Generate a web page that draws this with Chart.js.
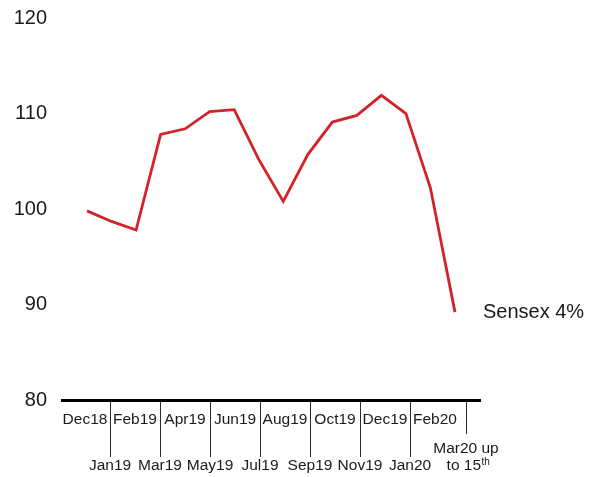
<!DOCTYPE html>
<html>
<head>
<meta charset="utf-8">
<script src="https://cdn.jsdelivr.net/npm/chart.js@4/dist/chart.umd.min.js"></script>
<style>
  html, body { margin: 0; padding: 0; background: #ffffff; }
  #c { display: block; }
</style>
</head>
<body>
<canvas id="c" width="596" height="477"></canvas>
<script>
// Months on the category axis (last one is a partial month)
const monthLabels = [
  'Dec18', 'Jan19', 'Feb19', 'Mar19', 'Apr19', 'May19', 'Jun19', 'Jul19',
  'Aug19', 'Sep19', 'Oct19', 'Nov19', 'Dec19', 'Jan20', 'Feb20', 'Mar20 up|to 15th'
];

// Sensex, rebased index (Dec18 ≈ 100)
const sensexIndex = [
  99.8, 98.7, 97.8, 107.8, 108.4, 110.2, 110.4, 105.2,
  100.8, 105.7, 109.1, 109.8, 111.9, 110.0, 102.2, 89.2
];

const yTicks = [80, 90, 100, 110, 120];
const seriesLabel = 'Sensex 4%';

const FONT = '"Liberation Sans", Arial, sans-serif';
const TEXT = '#1a1a1a';
const RED = 'rgb(210, 35, 42)';

// Month labels alternate between two rows; lower-row months get a divider
// line hanging from the axis.
const monthAxisPlugin = {
  id: 'monthAxis',
  afterDraw(chart) {
    const ctx = chart.ctx;
    const xl = chart.scales.xl;
    const top = xl.top;
    const row1 = top + 19.5;
    const row2 = top + 66;
    const lineGap = 17;

    ctx.save();
    ctx.fillStyle = TEXT;
    ctx.strokeStyle = '#2a2a2a';
    ctx.lineWidth = 1;
    ctx.textBaseline = 'middle';

    monthLabels.forEach((label, i) => {
      const isLast = i === monthLabels.length - 1;
      const px = Math.round(xl.getPixelForValue(i) + (isLast ? 6 : 0));
      const lines = label.split('|');
      const lower = i % 2 === 1;

      let firstY;
      if (lower) {
        firstY = row2 - (lines.length - 1) * lineGap;
        const dividerEnd = lines.length > 1 ? firstY - 15 : row2 - 9;
        ctx.beginPath();
        ctx.moveTo(px + 0.5, top + 1);
        ctx.lineTo(px + 0.5, dividerEnd);
        ctx.stroke();
      } else {
        firstY = row1;
      }

      lines.forEach((text, k) => {
        const y = firstY + k * lineGap;
        const m = text.match(/^(.*\d)(st|nd|rd|th)$/);
        if (m) {
          // ordinal suffix set as superscript
          ctx.font = '15.5px ' + FONT;
          const wMain = ctx.measureText(m[1]).width;
          ctx.font = '10px ' + FONT;
          const wSup = ctx.measureText(m[2]).width;
          const x0 = px - (wMain + wSup) / 2 + 2;
          ctx.textAlign = 'left';
          ctx.font = '15.5px ' + FONT;
          ctx.fillText(m[1], x0, y);
          ctx.font = '10px ' + FONT;
          ctx.fillText(m[2], x0 + wMain + 0.5, y - 4);
        } else {
          ctx.textAlign = 'center';
          ctx.font = '15.5px ' + FONT;
          ctx.fillText(text, px, y);
        }
      });
    });

    // Series name next to the end of the line
    const meta = chart.getDatasetMeta(0);
    const endPt = meta.data[meta.data.length - 1];
    ctx.font = '20px ' + FONT;
    ctx.textAlign = 'left';
    ctx.fillText(seriesLabel, endPt.x + 28, endPt.y);
    ctx.restore();
  }
};

new Chart(document.getElementById('c'), {
  type: 'line',
  data: {
    datasets: [{
      label: seriesLabel,
      data: sensexIndex.map((v, i) => ({ x: i, y: v })),
      xAxisID: 'x',
      yAxisID: 'y',
      borderColor: RED,
      borderWidth: 2.8,
      pointRadius: 0,
      tension: 0,
      fill: false
    }]
  },
  options: {
    responsive: false,
    devicePixelRatio: 1,
    animation: false,
    layout: { padding: { top: 18, right: 116, bottom: 0, left: 0 } },
    plugins: {
      legend: { display: false },
      tooltip: { enabled: false }
    },
    scales: {
      x: {
        type: 'linear',
        display: false,
        min: -1.02,
        max: 16.02
      },
      xl: {
        type: 'linear',
        position: 'bottom',
        min: -0.92,
        max: 15.8,
        grid: { display: false, drawTicks: false },
        border: { display: true, color: '#000000', width: 3 },
        ticks: { display: false },
        afterFit(scale) { scale.height = 77; }
      },
      y: {
        type: 'linear',
        min: 80,
        max: 120,
        afterBuildTicks(scale) { scale.ticks = yTicks.map(v => ({ value: v })); },
        grid: { display: false, drawTicks: false },
        border: { display: false },
        ticks: {
          color: TEXT,
          padding: 15,
          font: { family: FONT, size: 20 }
        },
        afterFit(scale) {
          scale.width = 62;
          scale.paddingTop = 0;
          scale.paddingBottom = 0;
        }
      }
    }
  },
  plugins: [monthAxisPlugin]
});
</script>
</body>
</html>
